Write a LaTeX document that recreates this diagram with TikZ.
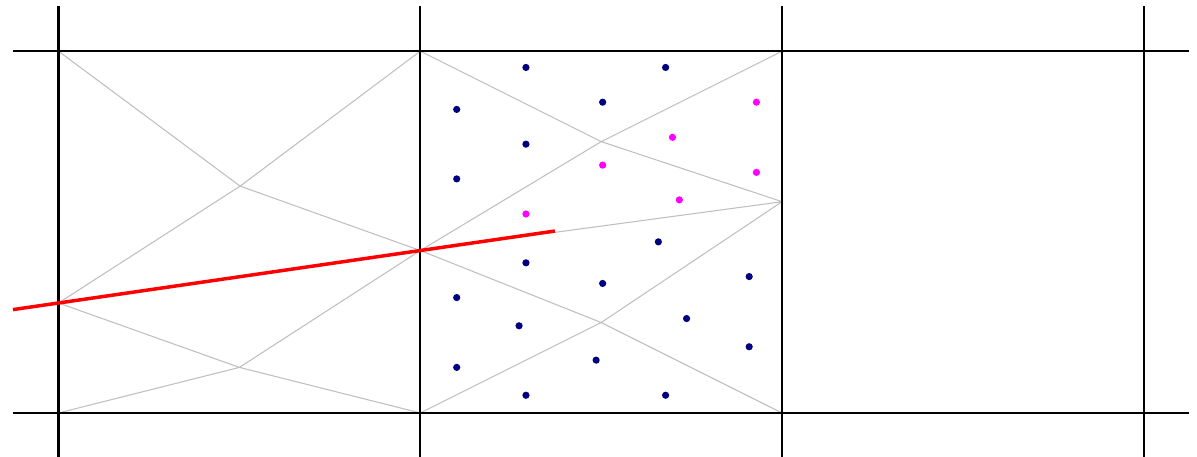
\documentclass[tikz,border=0pt]{standalone}
\usepackage{tikz}
\usepackage{xcolor}
\usetikzlibrary{calc}
\definecolor{qblue}{rgb}{0,0,0.5}
\definecolor{qpink}{rgb}{1,0,1}
\begin{document}
\begin{tikzpicture}[x=3cm,y=3cm,mesh/.style={line width=0.25pt,color=lightgray}]
\useasboundingbox (-0.1617,-0.1216) rectangle (3.1468,1.1415);
\coordinate (a) at (0,1);\coordinate (b) at (1,1);\coordinate (e) at (2,1);
\coordinate (c) at (0,0);\coordinate (d) at (1,0);\coordinate (f) at (2,0);
\coordinate (l) at (0,0.304);\coordinate (r) at (1,0.449);\coordinate (s) at (2,0.584);
\coordinate (p1) at (0.502,0.627);\coordinate (p2) at (0.5,0.126);
\coordinate (q1) at (1.5,0.75);\coordinate (q2) at (1.5,0.25);
\draw[mesh] (a)--(p1)--(b) (l)--(p1)--(r) (l)--(p2)--(d) (c)--(p2)--(r) (l)--(r);
\draw[mesh] (b)--(q1)--(e) (r)--(q1)--(s) (r)--(s) (r)--(q2)--(f) (d)--(q2)--(s);
\draw[mesh] (a)--(e) (c)--(f) (b)--(d) (e)--(f);
\draw[line width=0.48pt] (-0.125,0)--(3.125,0);\draw[line width=0.48pt] (-0.125,1)--(3.125,1);
\draw[line width=0.48pt] (0,-0.125)--(0,1.125);
\draw[line width=0.48pt] (1,-0.125)--(1,1.125);
\draw[line width=0.48pt] (2,-0.125)--(2,1.125);
\draw[line width=0.48pt] (3,-0.125)--(3,1.125);
\draw[red,line width=0.82pt] ($(l)!-0.126!(r)$)--($(l)!1.372!(r)$);
\fill[qblue] (1.292,0.955) circle (0.85pt);
\fill[qblue] (1.678,0.955) circle (0.85pt);
\fill[qblue] (1.1006,0.839) circle (0.85pt);
\fill[qblue] (1.504,0.859) circle (0.85pt);
\fill[qblue] (1.292,0.743) circle (0.85pt);
\fill[qblue] (1.1006,0.647) circle (0.85pt);
\fill[qblue] (1.658,0.473) circle (0.85pt);
\fill[qblue] (1.292,0.415) circle (0.85pt);
\fill[qblue] (1.504,0.358) circle (0.85pt);
\fill[qblue] (1.909,0.377) circle (0.85pt);
\fill[qblue] (1.1006,0.319) circle (0.85pt);
\fill[qblue] (1.273,0.241) circle (0.85pt);
\fill[qblue] (1.736,0.261) circle (0.85pt);
\fill[qblue] (1.909,0.183) circle (0.85pt);
\fill[qblue] (1.1006,0.126) circle (0.85pt);
\fill[qblue] (1.486,0.146) circle (0.85pt);
\fill[qblue] (1.292,0.049) circle (0.85pt);
\fill[qblue] (1.678,0.049) circle (0.85pt);
\fill[qpink] (1.929,0.859) circle (0.85pt);
\fill[qpink] (1.697,0.762) circle (0.85pt);
\fill[qpink] (1.504,0.685) circle (0.85pt);
\fill[qpink] (1.929,0.665) circle (0.85pt);
\fill[qpink] (1.716,0.589) circle (0.85pt);
\fill[qpink] (1.292,0.550) circle (0.85pt);
\end{tikzpicture}
\end{document}
